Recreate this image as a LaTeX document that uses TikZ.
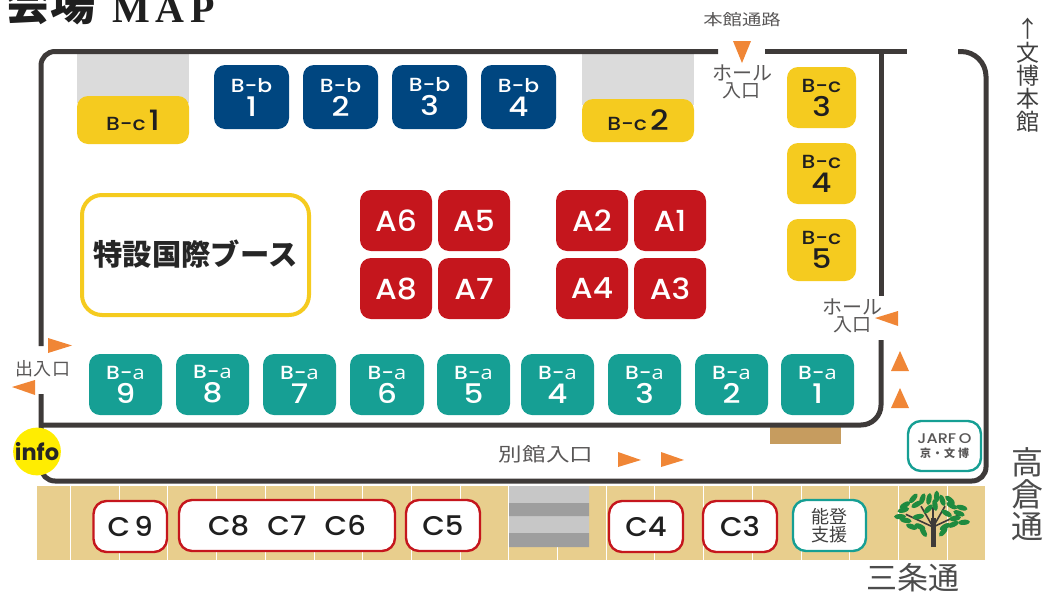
\documentclass[tikz,border=0pt]{standalone}
\usepackage{fontspec}
\usepackage{graphicx}
\setmainfont{Poppins Medium}
\newfontfamily\cjk{Noto Sans CJK JP}
\newfontfamily\ttl{Liberation Serif}
\newfontfamily\infofont{Poppins}
\newfontfamily\osf{Open Sans}
\definecolor{wall}{HTML}{3E3A39}
\definecolor{navy}{HTML}{004680}
\definecolor{tealc}{HTML}{169F94}
\definecolor{yel}{HTML}{F5CB1F}
\definecolor{redc}{HTML}{C5161D}
\definecolor{tan}{HTML}{E8CE8D}
\definecolor{matc}{HTML}{C69C5F}
\definecolor{arrowc}{HTML}{F08636}
\definecolor{labelc}{HTML}{595757}
\definecolor{leafc}{HTML}{1F8A3F}
\newcommand\fs[1]{\fontsize{#1}{#1}\selectfont}
\newcommand\wid[1]{\scalebox{1.15}[1]{#1}}
\newcommand\widb[1]{\scalebox{1.08}[1]{#1}}
\newcommand\twol[2]{\vbox{\baselineskip=24pt\lineskiplimit=-100pt\lineskip=0pt\halign{\hfil##\hfil\cr\wid{\fs{19}#1}\cr\wid{\fs{27}#2}\cr}}}
\newcommand\bx[7]{\node[#6,minimum width={#4-#2},minimum height={#5-#3}] (#1) at ({(#2+#4)/2},{(#3+#5)/2}) {#7};}
\tikzset{
  x=1pt,y=-1pt,
  boxb/.style={rounded corners=11pt,inner sep=0pt,outer sep=0pt},
  ba/.style={boxb,fill=tealc,text=white},
  bb/.style={boxb,fill=navy,text=white},
  bc/.style={boxb,fill=yel,text=black!88},
  ab/.style={boxb,fill=redc,text=white,font=\fs{29}},
  cb/.style={boxb,fill=white,draw=redc,line width=2.4pt,text=black!88,font=\fs{27},rounded corners=13pt},
  wallp/.style={draw=wall,line width=5pt},
  tri/.style={fill=arrowc},
  lab/.style={text=labelc,inner sep=0pt,font=\cjk},
  leaf/.style={fill=leafc},
}
\begin{document}
\begin{tikzpicture}
\useasboundingbox (0,0) rectangle (1043,592);
% ground strip
\fill[tan] (37,486) rectangle (985,560);
\foreach \n in {0,...,18} \draw[white,line width=1pt] ({70.5+48.7*\n},486) -- ({70.5+48.7*\n},560);
% stairs
\fill[black!22] (509,486) rectangle (589,503) (509,516) rectangle (589,533);
\fill[black!38] (509,503) rectangle (589,516) (509,533) rectangle (589,547);
% grey zones
\fill[black!14] (77,54) rectangle (189,103);
\fill[black!14] (582,54) rectangle (694,105);
% brown mat
\fill[matc] (770,427) rectangle (841,444);
% walls
\draw[wallp,rounded corners=14pt] (718,51.5) -- (41,51.5) -- (41,346);
\draw[wallp,rounded corners=14pt] (41,394) -- (41,481) -- (986,481) [rounded corners=25pt] -- (986,51.5) -- (958,51.5);
\draw[wallp] (765,51.5) -- (907,51.5);
\draw[wallp] (881,51.5) -- (881,296);
\draw[wallp,rounded corners=20pt] (881,340) -- (881,425) -- (41,425);
% boxes
\bx{bc1}{77}{96}{189}{144}{bc}{\wid{\fs{19}B-c}\hspace{3pt}\wid{\fs{28}1}}
\bx{bc2}{582}{99}{694}{142}{bc}{\wid{\fs{19}B-c}\hspace{3pt}\wid{\fs{28}2}}
\bx{bc3}{787}{67}{856}{128}{bc}{\twol{B-c}{3}}
\bx{bc4}{787}{143}{856}{204}{bc}{\twol{B-c}{4}}
\bx{bc5}{787}{219}{856}{281}{bc}{\twol{B-c}{5}}
\bx{bb1}{214}{65}{289}{129}{bb}{\twol{B-b}{1}}
\bx{bb2}{303}{65}{378}{129}{bb}{\twol{B-b}{2}}
\bx{bb3}{392}{65}{467}{129}{bb}{\twol{B-b}{3}}
\bx{bb4}{481}{65}{556}{129}{bb}{\twol{B-b}{4}}
\bx{a6}{360}{190}{432}{251}{ab}{\widb{A6}}
\bx{a5}{438}{190}{510}{251}{ab}{\widb{A5}}
\bx{a2}{556}{190}{628}{251}{ab}{\widb{A2}}
\bx{a1}{634}{190}{706}{251}{ab}{\widb{A1}}
\bx{a8}{360}{258}{432}{319}{ab}{\widb{A8}}
\bx{a7}{438}{258}{510}{319}{ab}{\widb{A7}}
\bx{a4}{556}{258}{628}{319}{ab}{\widb{A4}}
\bx{a3}{634}{258}{706}{319}{ab}{\widb{A3}}
\bx{ba9}{89}{354}{162}{415}{ba}{\twol{B-{\osf a}}{9}}
\bx{ba8}{176}{354}{249}{415}{ba}{\twol{B-{\osf a}}{8}}
\bx{ba7}{263}{354}{336}{415}{ba}{\twol{B-{\osf a}}{7}}
\bx{ba6}{350}{354}{424}{415}{ba}{\twol{B-{\osf a}}{6}}
\bx{ba5}{437}{354}{510}{415}{ba}{\twol{B-{\osf a}}{5}}
\bx{ba4}{521}{354}{594}{415}{ba}{\twol{B-{\osf a}}{4}}
\bx{ba3}{608}{354}{681}{415}{ba}{\twol{B-{\osf a}}{3}}
\bx{ba2}{695}{354}{768}{415}{ba}{\twol{B-{\osf a}}{2}}
\bx{ba1}{781}{354}{854}{415}{ba}{\twol{B-{\osf a}}{1}}
\bx{sp}{82}{195}{309}{315}{boxb,fill=white,draw=yel,line width=4pt,rounded corners=20pt,text=black!85}{\raisebox{4.5pt}{\cjk\bfseries\fs{29.3}特設国際ブース}}
\bx{c9}{93.5}{501}{167}{552}{cb}{\widb{C\hspace{4pt}9}}
\bx{c86}{179}{500}{395}{551}{cb}{\widb{C8\hspace{17pt}C7\hspace{17pt}C6}}
\bx{c5}{406}{500}{480}{551}{cb}{\widb{C5}}
\bx{c4}{609}{501}{683}{552}{cb}{\widb{C4}}
\bx{c3}{703}{501}{777}{552}{cb}{\widb{C3}}
\bx{noto}{793}{500}{866}{551}{boxb,fill=white,draw=tealc,line width=2.4pt,rounded corners=13pt,text=black!75,align=center}{\cjk\fs{18}能登\\[0pt]\cjk\fs{18}支援}
\bx{jarfo}{908}{421}{981}{471}{boxb,fill=white,draw=tealc,line width=2.4pt,rounded corners=13pt,text=labelc,align=center}{\wid{\fs{14}JARF\,O}\\[2pt]\cjk\bfseries\fs{11}京\hspace{1pt}・\hspace{1pt}文\hspace{3pt}博}
% info
\node[circle,fill=yellow!95!orange,minimum size=45pt,inner sep=0pt,text=black!85] (info) at (37,451.5) {\infofont\bfseries\fs{22.5}info};
% triangles
\fill[tri] (733,41) -- (751,41) -- (742,63) -- cycle;
\fill[tri] (48,338) -- (72,345.5) -- (48,353) -- cycle;
\fill[tri] (12,387) -- (35,380) -- (35,395) -- cycle;
\fill[tri] (875,318) -- (898,311) -- (898,326) -- cycle;
\fill[tri] (900,351) -- (891,371) -- (909,371) -- cycle;
\fill[tri] (900,388) -- (891,408) -- (909,408) -- cycle;
\fill[tri] (618,452) -- (641,460) -- (618,467) -- cycle;
\fill[tri] (661,452) -- (684,460) -- (661,467) -- cycle;
% labels
\node[lab] (honkan) at (742,20) {\scalebox{1.25}[1]{\cjk\fs{15.5}本館通路}};
\node[lab,font=\cjk\fs{20}] (hole1) at (742,73) {ホール};
\node[lab,font=\cjk\fs{19}] (iri1) at (741,91) {入口};
\node[lab,font=\cjk\fs{20}] (hole2) at (852,307) {ホール};
\node[lab,font=\cjk\fs{19}] (iri2) at (852,325) {入口};
\node[lab,font=\cjk\fs{18}] (deiri) at (43,369) {出入口};
\node[lab] (bekkan) at (546,454) {\scalebox{1.24}[1]{\cjk\fs{19}別館入口}};
\node[lab,font=\cjk\fs{31},text=black!70] (sanjo) at (913,578) {三条通};
\node[lab,font=\cjk\fs{23},text=black!75,align=center] (bunpaku) at (1028,75) {↑\\[1pt]文\\博\\本\\館};
\node[lab,font=\cjk\fs{32},text=black!70,align=center] (takakura) at (1027,494) {高\\倉\\通};
% title
\node[inner sep=0pt,anchor=base west,font=\cjk\bfseries\fs{45},text=black!88] (title) at (5,20) {会場};
\node[inner sep=0pt,anchor=base west,text=black!88] (map) at (112,22) {\ttl\bfseries\fs{40}M\hspace{6pt}A\hspace{6pt}P};
% tree
\draw[wall,line width=5pt] (933,547) -- (933,518);
\foreach \a/\l in {-60/24,-25/28,-120/24,-155/30,-90/20}
  \draw[wall,line width=1.6pt] (933,527) -- ++(\a:\l);
\begin{scope}[shift={(885,485)},x=0.3333pt,y=-0.3333pt]
\foreach \x/\y/\r in {45/95/0,62/106/-10,55/75/15,60/60/30,85/40/50,95/58/30,112/42/70,132/42/80,130/72/45,155/35/90,172/46/-70,195/45/-40,200/62/-30,230/68/-15,222/85/-20,185/85/-30,210/100/10,237/112/5,205/118/25,180/125/30,175/140/50,115/140/-60,105/125/-25,80/125/-20,100/95/10,150/60/-80}
  \fill[leaf,rotate around={\r:(\x,\y)}] (\x,\y) ellipse (6pt and 2.6pt);
\end{scope}
\end{tikzpicture}
\end{document}
